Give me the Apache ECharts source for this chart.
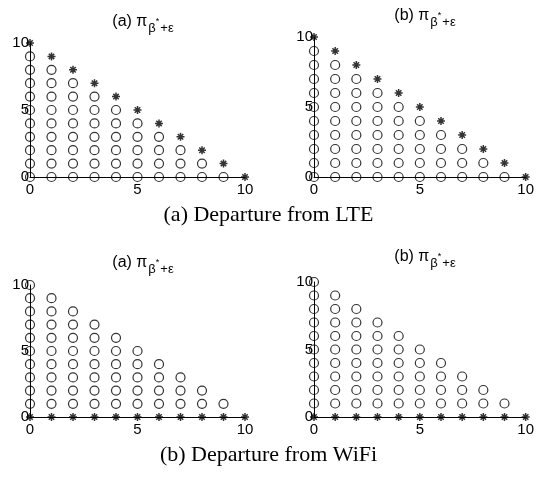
<!DOCTYPE html>
<html>
<head>
<meta charset="utf-8">
<script src="https://cdn.jsdelivr.net/npm/echarts@6/dist/echarts.min.js"></script>
<style>
  html, body { margin: 0; padding: 0; background: #fff; }
  #chart { width: 537px; height: 477px; }
</style>
</head>
<body>
<div id="chart"></div>
<script>
// State indices along each axis
var states = [0, 1, 2, 3, 4, 5, 6, 7, 8, 9, 10];

// Departure from LTE: open circles from 0 up to circleTop, asterisk at starY
var lteCircleBottom = [0, 0, 0, 0, 0, 0, 0, 0, 0, 0, 0];
var lteCircleTop    = [9, 8, 7, 6, 5, 4, 3, 2, 1, 0, -1];
var lteStarY        = [10, 9, 8, 7, 6, 5, 4, 3, 2, 1, 0];

// Departure from WiFi: open circles from 1 up to circleTop, asterisk on the axis
var wifiCircleBottom = [1, 1, 1, 1, 1, 1, 1, 1, 1, 1, 1];
var wifiCircleTop    = [10, 9, 8, 7, 6, 5, 4, 3, 2, 1, 0];
var wifiStarY        = [0, 0, 0, 0, 0, 0, 0, 0, 0, 0, 0];

var axisTicks = [0, 5, 10];
var panelTitles = ['(a)', '(b)', '(a)', '(b)'];
var captions = ['(a) Departure from LTE', '(b) Departure from WiFi'];

function circlePoints(bottom, top) {
  var pts = [];
  states.forEach(function (x, i) {
    for (var y = bottom[i]; y <= top[i]; y++) pts.push([x, y]);
  });
  return pts;
}
function starPoints(ys) {
  return states.map(function (x, i) { return [x, ys[i]]; });
}

var panels = [
  { grid: { left: 30, top: 43, width: 215, height: 134 }, titleX: 138, titleTop: 9, bottom: lteCircleBottom, top: lteCircleTop, star: lteStarY },
  { grid: { left: 314, top: 37, width: 216, height: 140 }, titleX: 420, titleTop: 3, bottom: lteCircleBottom, top: lteCircleTop, star: lteStarY },
  { grid: { left: 30, top: 285, width: 215, height: 132 }, titleX: 138, titleTop: 250, bottom: wifiCircleBottom, top: wifiCircleTop, star: wifiStarY },
  { grid: { left: 314, top: 282, width: 216, height: 135 }, titleX: 420, titleTop: 244, bottom: wifiCircleBottom, top: wifiCircleTop, star: wifiStarY }
];

var asterisk = 'path://M5,0L5,10M0,5L10,5M1.6,1.6L8.4,8.4M1.6,8.4L8.4,1.6';
var sans = 'Liberation Sans, Arial, Helvetica, sans-serif';
var serif = 'Liberation Serif, Times New Roman, serif';

var grids = [], xAxes = [], yAxes = [], series = [], titles = [];
panels.forEach(function (p, k) {
  grids.push(Object.assign({ containLabel: false }, p.grid));
  var axisCommon = {
    gridIndex: k, type: 'value', min: 0, max: 10, interval: 5,
    splitLine: { show: false },
    axisTick: { show: false },
    axisLine: { show: true, onZero: false, lineStyle: { color: '#000', width: 1 } },
    axisLabel: { color: '#000', fontSize: 15, fontFamily: sans,
      formatter: function (v) { return axisTicks.indexOf(v) >= 0 ? String(v) : ''; } }
  };
  xAxes.push(Object.assign({}, axisCommon, { axisLabel: Object.assign({}, axisCommon.axisLabel, { margin: 5 }) }));
  yAxes.push(Object.assign({}, axisCommon, { axisLabel: Object.assign({}, axisCommon.axisLabel, { margin: 1 }) }));
  series.push({
    type: 'scatter', xAxisIndex: k, yAxisIndex: k, clip: false, silent: true,
    symbol: 'circle', symbolSize: 9,
    itemStyle: { color: 'rgba(0,0,0,0)', borderColor: '#000', borderWidth: 1.2 },
    data: circlePoints(p.bottom, p.top), z: 3
  });
  series.push({
    type: 'scatter', xAxisIndex: k, yAxisIndex: k, clip: false, silent: true,
    symbol: asterisk, symbolSize: 8,
    itemStyle: { color: 'rgba(0,0,0,0)', borderColor: '#000', borderWidth: 1.5 },
    data: starPoints(p.star), z: 4
  });
  titles.push({
    text: '{m|' + panelTitles[k] + ' \u03c0}{s|\u03b2}{u|*}{s|+\u03b5}',
    left: p.titleX,
    textAlign: 'center',
    top: p.titleTop,
    textStyle: {
      fontWeight: 'normal',
      rich: {
        m: { fontFamily: sans, fontSize: 16, fontWeight: 'normal', color: '#000', verticalAlign: 'top', lineHeight: 18 },
        s: { fontFamily: sans, fontSize: 13, fontWeight: 'normal', color: '#000', verticalAlign: 'top', lineHeight: 15, padding: [8, 0, 0, 1] },
        u: { fontFamily: sans, fontSize: 9, fontWeight: 'normal', color: '#000', verticalAlign: 'top', lineHeight: 10, padding: [3, 0, 0, 0] }
      }
    }
  });
});

titles.push({ text: captions[0], left: 'center', top: 199,
  textStyle: { fontFamily: serif, fontSize: 22, fontWeight: 'normal', color: '#000' } });
titles.push({ text: captions[1], left: 'center', top: 439,
  textStyle: { fontFamily: serif, fontSize: 22, fontWeight: 'normal', color: '#000' } });

var chart = echarts.init(document.getElementById('chart'), null, { renderer: 'canvas' });
chart.setOption({
  backgroundColor: '#fff',
  animation: false,
  title: titles,
  grid: grids,
  xAxis: xAxes,
  yAxis: yAxes,
  series: series
});
</script>
</body>
</html>
